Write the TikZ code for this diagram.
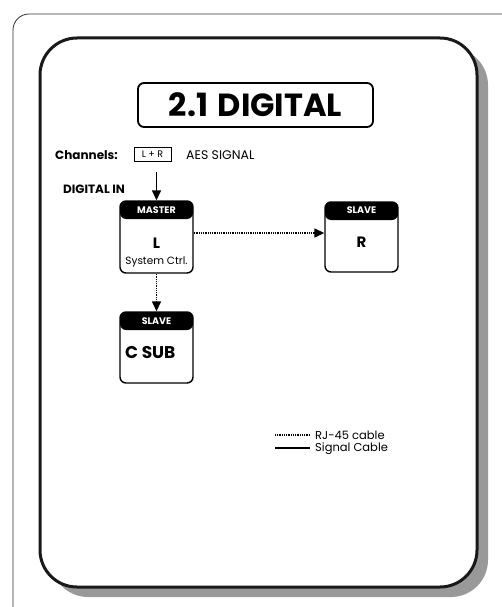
\documentclass[tikz,border=0pt]{standalone}
\usepackage{fontspec}
\setmainfont{Poppins}
\usetikzlibrary{arrows.meta}
\begin{document}
\begin{tikzpicture}[x=1pt,y=-1pt,
  unitbox/.style={draw, line width=1.4pt, rounded corners=6pt, minimum width=73pt, inner sep=0pt,
    path picture={\fill ([yshift=2pt]path picture bounding box.north west) rectangle ([yshift=-18pt]path picture bounding box.north east);}},
  headtxt/.style={text=white, font=\bfseries\fontsize{9.5}{11}\selectfont, inner sep=0pt},
  bigtxt/.style={font=\bfseries\fontsize{15}{17}\selectfont, inner sep=0pt},
  smalltxt/.style={font=\fontsize{10.5}{12}\selectfont, inner sep=0pt},
  rjline/.style={line width=1.4pt, dash pattern=on 1pt off 0.8pt},
  sigline/.style={line width=1.4pt},
  tip/.style={-{Triangle[width=9pt,length=10pt]}},
  legtxt/.style={anchor=west, inner sep=0pt, font=\fontsize{11.5}{13}\selectfont}
]
\useasboundingbox (0,0) rectangle (501,607);
% outer thin frame
\draw[line width=0.8pt, rounded corners=16pt, draw=black!80] (13,14) rectangle (530,625);
% shadow + main frame
\fill[black!40, rounded corners=37pt] (51,48) rectangle (488,597);
\draw[line width=3pt, fill=white, draw=black!90, rounded corners=37pt] (40,38) rectangle (477,587);
% title
\node[draw, line width=1.8pt, rounded corners=6pt, minimum width=235pt, minimum height=44pt, inner sep=0pt,
  font=\bfseries\fontsize{32}{36}\selectfont] (title) at (255.5,105) {2.1\hspace{0.3em}DIGITAL};
% channels line
\node[anchor=base west, inner sep=0pt, font=\bfseries\fontsize{12}{14}\selectfont] (chan) at (55,159) {Channels:};
\node[draw, line width=1pt, minimum width=37pt, minimum height=14pt, inner sep=0pt,
  font=\fontsize{9.5}{11}\selectfont] (lr) at (152.5,154) {L + R};
\node[anchor=base west, inner sep=0pt, font=\fontsize{12.5}{14}\selectfont] (aes) at (186,159) {AES SIGNAL};
\node[anchor=base west, inner sep=0pt, font=\bfseries\fontsize{12}{14}\selectfont] (din) at (63,193) {DIGITAL IN};
% units
\node[unitbox, minimum height=72pt] (master) at (156.5,237) {};
\node[headtxt] (mhead) at (156.5,210) {MASTER};
\node[bigtxt] (ml) at (156.5,243) {L};
\node[smalltxt] (msys) at (156.5,262) {System Ctrl.};
\node[unitbox, minimum height=70pt] (slaver) at (361.5,237) {};
\node[headtxt] (rhead) at (361.5,210) {SLAVE};
\node[bigtxt] (rl) at (361.5,242) {R};
\node[unitbox, minimum height=71pt] (slavec) at (156.5,347.5) {};
\node[headtxt] (chead) at (156.5,321) {SLAVE};
\node[anchor=west, inner sep=0pt, font=\bfseries\fontsize{17}{19}\selectfont] (cl) at (125,353) {C SUB};
% connectors
\coordinate (dinstart) at (156.5,172);
\draw[sigline, tip] (dinstart) -- (master.north);
\draw[rjline, tip] (master.east |- 0,233) -- (slaver.west |- 0,233);
\draw[rjline, tip] (master.south) -- (slavec.north);
% legend
\coordinate (l1a) at (275,435); \coordinate (l1b) at (310,435);
\coordinate (l2a) at (275,448); \coordinate (l2b) at (310,448);
\draw[rjline, line width=1.2pt] (l1a) -- (l1b);
\draw[sigline, line width=1.2pt] (l2a) -- (l2b);
\node[legtxt] (leg1) at (315,435) {RJ-45 cable};
\node[legtxt] (leg2) at (315,449) {Signal Cable};
\end{tikzpicture}
\end{document}
